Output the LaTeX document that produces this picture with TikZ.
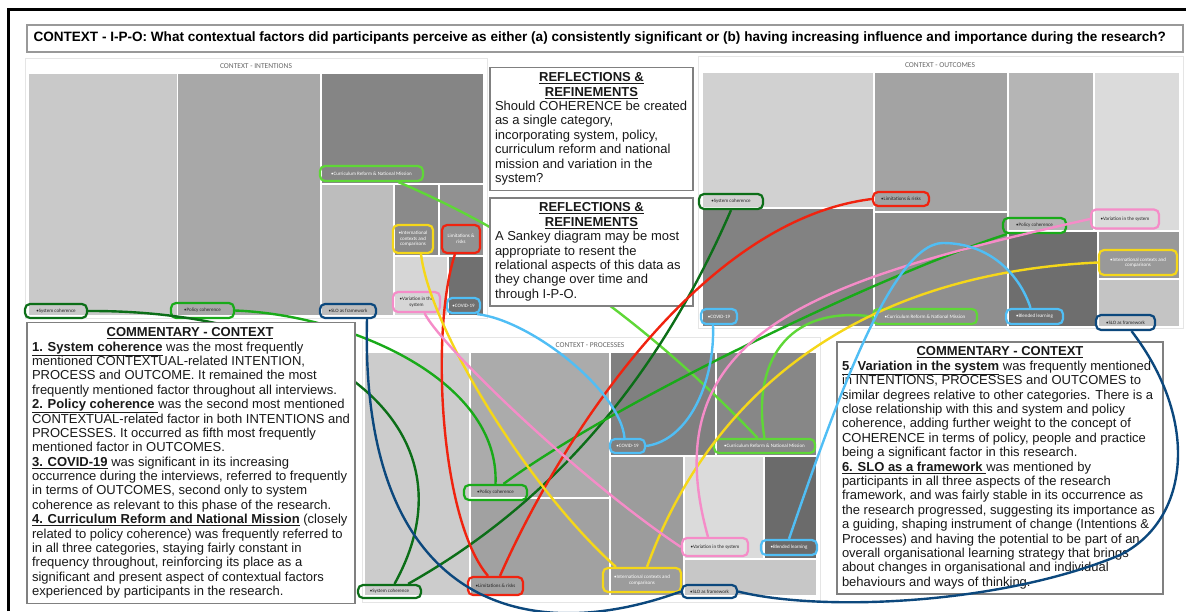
\documentclass[tikz,border=0pt]{standalone}
\usepackage{fontspec}
\setmainfont{Liberation Sans}
\newfontfamily\lblfont{Carlito}

\definecolor{sysgreen}{RGB}{12,110,24}
\definecolor{polgreen}{RGB}{25,170,25}
\definecolor{curlime}{RGB}{95,215,55}
\definecolor{limred}{RGB}{240,35,15}
\definecolor{intyellow}{RGB}{245,215,25}
\definecolor{varpink}{RGB}{245,140,200}
\definecolor{covblue}{RGB}{80,190,245}
\definecolor{slonavy}{RGB}{12,72,125}

\tikzset{
  panel/.style={draw=black!10, fill=white, line width=0.8pt},
  ptitle/.style={font=\lblfont\fontsize{7.5}{9}\selectfont, text=black!60},
  tag/.style={draw, rounded corners=5pt, line width=2.2pt, inner sep=0pt, align=center,
    text=white, font=\lblfont\fontsize{5}{5.6}\selectfont},
  dk/.style={text=black!85},
  link/.style={line width=2.4pt},
  textbox/.style={draw=black!50, line width=1.2pt, fill=white, align=left, inner sep=5pt,
    text=black!90, font=\fontsize{13}{14.4}\selectfont},
}

\begin{document}
\begin{tikzpicture}[x=1pt,y=-1pt]
  \useasboundingbox (0,0) rectangle (1186,611);
  \draw[line width=3pt] (8,611) -- (8,9) -- (1186,9);

  % title
  \draw[draw=black!40, line width=1.5pt] (27,25) rectangle (1183,52);
  \node[anchor=west, font=\bfseries\fontsize{13.55}{15}\selectfont] (title) at (30,38.5)
    {CONTEXT - I-P-O: What contextual factors did participants perceive as either (a) consistently significant or (b) having increasing influence and importance during the research?};

  % intentions treemap
  \draw[panel] (25,58) rectangle (487,318);
  \node[ptitle] (tI) at (256,66) {CONTEXT - INTENTIONS};
  \foreach \xa/\ya/\xb/\yb/\g in {29/74/177/315/21, 178/74/320/315/34, 322/74/483/183/48,
      322/185/393/315/26, 395/185/438/255/46, 440/185/483/255/43, 395/257/447/315/16, 449/257/483/315/56}
    \fill[black!\g] (\xa,\ya) rectangle (\xb,\yb);

  % outcomes treemap
  \draw[panel] (698,56) rectangle (1183,328);
  \node[ptitle] (tO) at (940,65) {CONTEXT - OUTCOMES};
  \foreach \xa/\ya/\xb/\yb/\g in {703/73/873/207/18, 875/73/1007/211/36, 1009/73/1093/230/29,
      1095/73/1179/230/14, 703/209/873/326/49, 875/213/1007/326/44, 1009/232/1097/326/57,
      1099/232/1179/278/40, 1099/280/1179/326/23}
    \fill[black!\g] (\xa,\ya) rectangle (\xb,\yb);

  % processes treemap
  \draw[panel] (362,337) rectangle (820,602);
  \node[ptitle] (tP) at (590,345) {CONTEXT - PROCESSES};
  \foreach \xa/\ya/\xb/\yb/\g in {365/353/469/595/20, 471/353/609/497/33, 471/499/609/595/37,
      611/353/715/455/50, 717/353/816/455/47, 611/457/683/595/39, 685/457/763/558/14,
      765/457/816/558/58, 685/560/816/595/22}
    \fill[black!\g] (\xa,\ya) rectangle (\xb,\yb);

  % labels - intentions
  \node[tag, draw=sysgreen, dk, minimum width=62pt, minimum height=14pt] (iSC) at (56,311) {•System coherence};
  \node[tag, draw=polgreen, dk, minimum width=63pt, minimum height=15pt] (iPC) at (202.5,310.5) {•Policy coherence};
  \node[tag, draw=slonavy, dk, minimum width=56pt, minimum height=14pt] (iSLO) at (348,311) {•SLO as framework};
  \node[tag, draw=curlime, minimum width=103pt, minimum height=15pt] (iCR) at (371.5,173.5) {•Curriculum Reform \& National Mission};
  \node[tag, draw=intyellow, minimum width=40pt, minimum height=28pt] (iIC) at (413,239) {•International\\contexts and\\comparisons};
  \node[tag, draw=limred, minimum width=38pt, minimum height=28pt] (iLR) at (461,239) {Limitations \&\\risks};
  \node[tag, draw=varpink, dk, minimum width=47pt, minimum height=20pt] (iVS) at (416.5,302) {•Variation in the\\system};
  \node[tag, draw=covblue, minimum width=33pt, minimum height=15pt] (iCV) at (463.5,305.5) {•COVID-19};

  % labels - processes
  \node[tag, draw=covblue, minimum width=35pt, minimum height=14pt] (pCV) at (627.5,446) {•COVID-19};
  \node[tag, draw=curlime, minimum width=101pt, minimum height=14pt] (pCR) at (764.5,446) {•Curriculum Reform \& National Mission};
  \node[tag, draw=polgreen, dk, minimum width=63pt, minimum height=15pt] (pPC) at (495.5,492.5) {•Policy coherence};
  \node[tag, draw=varpink, dk, minimum width=66pt, minimum height=18pt] (pVS) at (715,547) {•Variation in the system};
  \node[tag, draw=covblue, minimum width=56pt, minimum height=15pt] (pBL) at (789,547.5) {•Blended learning};
  \node[tag, draw=sysgreen, dk, minimum width=63pt, minimum height=13pt] (pSC) at (389.5,591.5) {•System coherence};
  \node[tag, draw=limred, dk, minimum width=55pt, minimum height=18pt] (pLR) at (495.5,586) {•Limitations \& risks};
  \node[tag, draw=intyellow, minimum width=78pt, minimum height=24pt] (pIC) at (642,580) {•International contexts and\\comparisons};
  \node[tag, draw=slonavy, dk, minimum width=55pt, minimum height=13pt] (pSLO) at (709.5,591.5) {•SLO as framework};

  % labels - outcomes
  \node[tag, draw=sysgreen, dk, minimum width=64pt, minimum height=15pt] (oSC) at (731,201.5) {•System coherence};
  \node[tag, draw=limred, dk, minimum width=56pt, minimum height=14pt] (oLR) at (901,199) {•Limitations \& risks};
  \node[tag, draw=polgreen, dk, minimum width=63pt, minimum height=15pt] (oPC) at (1034.5,225.5) {•Policy coherence};
  \node[tag, draw=varpink, dk, minimum width=68pt, minimum height=19pt] (oVS) at (1125,219) {•Variation in the system};
  \node[tag, draw=intyellow, minimum width=78pt, minimum height=25pt] (oIC) at (1138,262.5) {•International contexts and\\comparisons};
  \node[tag, draw=covblue, minimum width=36pt, minimum height=15pt] (oCV) at (719,316.5) {•COVID-19};
  \node[tag, draw=curlime, minimum width=104pt, minimum height=15pt] (oCR) at (925,316.5) {•Curriculum Reform \& National Mission};
  \node[tag, draw=covblue, minimum width=57pt, minimum height=15pt] (oBL) at (1034.5,316.5) {•Blended learning};
  \node[tag, draw=slonavy, dk, minimum width=59pt, minimum height=15pt] (oSLO) at (1125.5,322.5) {•SLO as framework};

  % commentary right
  \node[textbox, minimum width=326pt, minimum height=250pt] (comR) at (1000,468) {%
    \makebox[316pt]{\underline{\textbf{COMMENTARY - CONTEXT}}}\\
    \underline{\textbf{5. Variation in the system}} was frequently mentioned\\
    in INTENTIONS, PROCESSES and OUTCOMES to\\
    similar degrees relative to other categories. There is a\\
    close relationship with this and system and policy\\
    coherence, adding further weight to the concept of\\
    COHERENCE in terms of policy, people and practice\\
    being a significant factor in this research.\\
    \underline{\textbf{6. SLO as a framework }}was mentioned by\\
    participants in all three aspects of the research\\
    framework, and was fairly stable in its occurrence as\\
    the research progressed, suggesting its importance as\\
    a guiding, shaping instrument of change (Intentions \&\\
    Processes) and having the potential to be part of an\\
    overall organisational learning strategy that brings\\
    about changes in organisational and individual\\
    behaviours and ways of thinking.};

  % intentions -> processes, running under the boxes
  \draw[link, sysgreen] (iSC.east) .. controls (330,310) and (480,430) .. ([xshift=5pt]pSC.north);
  \draw[link, polgreen] (iPC.east) .. controls (350,315) and (500,380) .. (pPC.north);
  \draw[link, curlime] ([xshift=27pt]iCR.south) .. controls (529,238) and (649,324) .. ([xshift=-7pt]pCR.north);

  % commentary left
  \node[textbox, minimum width=326pt, minimum height=280pt] (comL) at (191,463) {%
    \makebox[316pt]{\underline{\textbf{COMMENTARY - CONTEXT}}}\\
    \underline{\textbf{1. System coherence}} was the most frequently\\
    mentioned CONTEXTUAL-related INTENTION,\\
    PROCESS and OUTCOME. It remained the most\\
    frequently mentioned factor throughout all interviews.\\
    \underline{\textbf{2. Policy coherence }}was the second most mentioned\\
    CONTEXTUAL-related factor in both INTENTIONS and\\
    PROCESSES. It occurred as fifth most frequently\\
    mentioned factor in OUTCOMES.\\
    \underline{\textbf{3. COVID-19}} was significant in its increasing\\
    occurrence during the interviews, referred to frequently\\
    in terms of OUTCOMES, second only to system\\
    coherence as relevant to this phase of the research.\\
    \underline{\textbf{4. Curriculum Reform and National Mission}} (closely\\
    related to policy coherence) was frequently referred to\\
    in all three categories, staying fairly constant in\\
    frequency throughout, reinforcing its place as a\\
    significant and present aspect of contextual factors\\
    experienced by participants in the research.};

  % reflections
  \node[textbox, minimum width=203pt, minimum height=120pt] (refA) at (591.5,129) {%
    \makebox[193pt]{\underline{\textbf{REFLECTIONS \&}}}\\
    \makebox[193pt]{\underline{\textbf{REFINEMENTS}}}\\
    Should COHERENCE be created\\
    as a single category,\\
    incorporating system, policy,\\
    curriculum reform and national\\
    mission and variation in the\\
    system?};
  \node[textbox, minimum width=203pt, minimum height=106pt] (refB) at (591.5,252) {%
    \makebox[193pt]{\underline{\textbf{REFLECTIONS \&}}}\\
    \makebox[193pt]{\underline{\textbf{REFINEMENTS}}}\\
    A Sankey diagram may be most\\
    appropriate to resent the\\
    relational aspects of this data as\\
    they change over time and\\
    through I-P-O.};

  % remaining links
  \draw[link, sysgreen] ([xshift=-14pt]pSC.north east) .. controls (550,504) and (657,381) .. (oSC.south);
  \draw[link, polgreen] ([xshift=8pt]pPC.north) .. controls (610,405) and (880,275) .. ([xshift=5pt]oPC.south west);
  \draw[link, curlime] (pCR.north) .. controls (752,365) and (785,305) .. (oCR.west);
  \draw[link, limred] ([xshift=-6pt]iLR.south) .. controls (430,330) and (440,520) .. ([xshift=-7.5pt]pLR.north);
  \draw[link, limred] ([xshift=4.5pt]pLR.north) .. controls (560,440) and (700,220) .. (oLR.west);
  \draw[link, intyellow] ([xshift=8pt]iIC.south) .. controls (430,330) and (530,490) .. ([xshift=14pt]pIC.north west);
  \draw[link, intyellow] ([xshift=5pt]pIC.north) .. controls (700,420) and (830,275) .. (oIC.west);
  \draw[link, varpink] ([xshift=8pt]iVS.south) .. controls (440,345) and (580,480) .. (pVS.west);
  \draw[link, varpink] ([xshift=-7pt]pVS.north) .. controls (650,330) and (820,280) .. (oVS.west);
  \draw[link, covblue] ([xshift=-4pt]iCV.south east) .. controls (530,320) and (620,390) .. ([xshift=-3pt]pCV.north);
  \draw[link, covblue] (pCV.east) .. controls (690,440) and (715,380) .. ([xshift=-6pt]oCV.south);
  \draw[link, covblue] (pBL.north) .. controls (830,420) and (890,243) .. (943,243)
    .. controls (990,243) and (1020,275) .. ([xshift=-4pt]oBL.north);
  \draw[link, slonavy] ([xshift=19pt]iSLO.south) .. controls (360,600) and (520,650) .. (pSLO.west);
  \draw[link, slonavy] (pSLO.east) .. controls (820,612) and (1000,605) .. (1120,555)
    .. controls (1190,520) and (1200,420) .. ([xshift=6pt]oSLO.south);
\end{tikzpicture}
\end{document}
